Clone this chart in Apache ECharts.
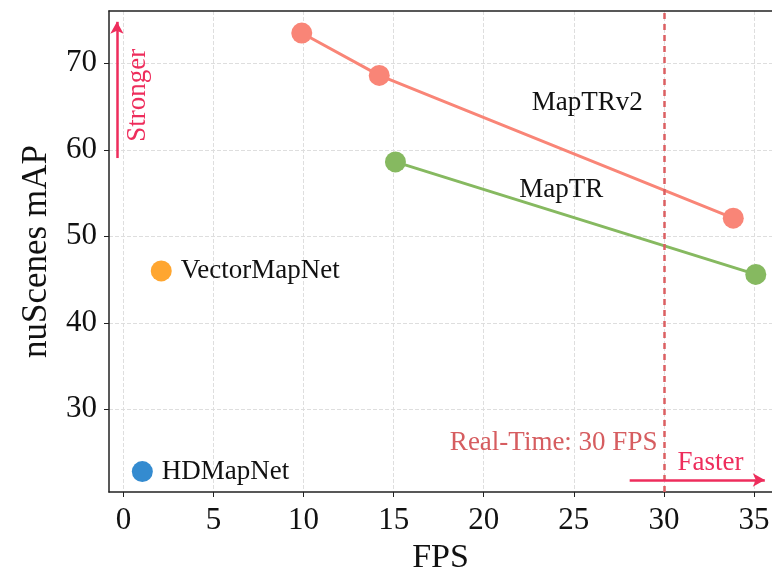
<!DOCTYPE html>
<html>
<head>
<meta charset="utf-8">
<script src="https://cdn.jsdelivr.net/npm/echarts@6/dist/echarts.min.js"></script>
<style>
  html, body { margin: 0; padding: 0; background: #fff; }
  #main { width: 772px; height: 569px; }
</style>
</head>
<body>
<div id="main"></div>
<script>
// data
var mapTRv2 = [[9.9, 73.5], [14.2, 68.6], [33.85, 52.1]];
var mapTR = [[15.1, 58.6], [35.1, 45.6]];
var vectorMapNet = [[2.1, 46.0]];
var hdMapNet = [[1.05, 22.8]];

var xTicks = [0, 5, 10, 15, 20, 25, 30, 35];
var yTicks = [30, 40, 50, 60, 70];
var realTimeFps = 30;

// text annotations: [x, y, text]
var lineNames = [[25.75, 65.4, 'MapTRv2'], [24.3, 55.35, 'MapTR']];
var realTimeText = [[29.64, 26.1, 'Real-Time: 30 FPS']];
var fasterText = [[30.75, 23.8, 'Faster']];
var strongerText = [[0.8, 66.3, 'Stronger']];
var fasterArrow = [[28.1, 21.83], [35.6, 21.83]];
var strongerArrow = [[-0.36, 59.05], [-0.36, 74.8]];

var serif = 'Liberation Serif';
var arrowColor = '#EE2D5C';

function textSeries(data, color, align, rotate) {
    return {
        type: 'scatter',
        symbolSize: 0,
        silent: true,
        itemStyle: { opacity: 1 },
        data: data.map(function (d) { return { value: [d[0], d[1]], name: d[2] }; }),
        label: {
            show: true,
            position: 'inside',
            formatter: '{b}',
            align: align,
            verticalAlign: 'middle',
            rotate: rotate || 0,
            fontFamily: serif,
            fontSize: 27,
            color: color
        },
        z: 5
    };
}

function arrowLine(pts) {
    return [{ coord: pts[0] }, { coord: pts[1] }];
}

var myChart = echarts.init(document.getElementById('main'));
var option = {
    animation: false,
    grid: { left: 109, right: 0, top: 11, bottom: 77, outerBoundsMode: 'none', containLabel: false },
    xAxis: [{
        type: 'value',
        min: -0.8,
        max: 36,
        name: 'FPS',
        nameLocation: 'middle',
        nameGap: 48,
        nameTextStyle: { fontFamily: serif, fontSize: 34, color: '#111' },
        axisLine: { show: true, onZero: false, lineStyle: { color: '#222', width: 1.5 } },
        axisTick: { show: true, length: 5, customValues: xTicks, lineStyle: { color: '#222' } },
        axisLabel: { customValues: xTicks, fontFamily: serif, fontSize: 31, color: '#111', margin: 13 },
        splitLine: { show: true, lineStyle: { type: 'dashed', color: '#dedede' } }
    }, {
        type: 'value',
        position: 'top',
        min: -0.8,
        max: 36,
        axisLine: { show: true, onZero: false, lineStyle: { color: '#222', width: 1.5 } },
        axisTick: { show: false },
        axisLabel: { show: false },
        splitLine: { show: false }
    }],
    yAxis: {
        type: 'value',
        min: 20.44,
        max: 76.05,
        name: 'nuScenes mAP',
        nameLocation: 'middle',
        nameGap: 55,
        nameTextStyle: { fontFamily: serif, fontSize: 35, color: '#111' },
        axisLine: { show: true, onZero: false, lineStyle: { color: '#222', width: 1.5 } },
        axisTick: { show: true, length: 5, customValues: yTicks, lineStyle: { color: '#222' } },
        axisLabel: { customValues: yTicks, fontFamily: serif, fontSize: 31, color: '#111', margin: 12 },
        splitLine: { show: true, lineStyle: { type: 'dashed', color: '#dedede' } }
    },
    series: [
        {
            name: 'MapTRv2',
            type: 'line',
            data: mapTRv2,
            symbol: 'circle',
            symbolSize: 21,
            color: '#F98577',
            itemStyle: { opacity: 1 },
            lineStyle: { width: 3 },
            z: 4
        },
        {
            name: 'MapTR',
            type: 'line',
            data: mapTR,
            symbol: 'circle',
            symbolSize: 21,
            color: '#86B960',
            itemStyle: { opacity: 1 },
            lineStyle: { width: 3 },
            z: 4
        },
        {
            name: 'VectorMapNet',
            type: 'scatter',
            data: vectorMapNet,
            symbolSize: 21,
            color: '#FFA630',
            itemStyle: { opacity: 1 },
            label: { show: true, position: 'right', distance: 9, formatter: '{a}', fontFamily: serif, fontSize: 27, color: '#111' }
        },
        {
            name: 'HDMapNet',
            type: 'scatter',
            data: hdMapNet,
            symbolSize: 21,
            color: '#348BD0',
            itemStyle: { opacity: 1 },
            label: { show: true, position: 'right', distance: 9, formatter: '{a}', fontFamily: serif, fontSize: 27, color: '#111' }
        },
        {
            type: 'line',
            data: [],
            markLine: {
                silent: true,
                symbol: ['none', 'none'],
                label: { show: false },
                lineStyle: { color: '#DB5F62', type: [6, 5], width: 2.5, opacity: 1 },
                data: [{ xAxis: realTimeFps }]
            }
        },
        {
            type: 'line',
            data: [],
            markLine: {
                silent: true,
                symbol: ['none', 'arrow'],
                symbolSize: [10, 12],
                label: { show: false },
                lineStyle: { color: arrowColor, type: 'solid', width: 2.5, opacity: 1 },
                data: [arrowLine(fasterArrow), arrowLine(strongerArrow)]
            }
        },
        textSeries(lineNames, '#111', 'center'),
        textSeries(realTimeText, '#D65D60', 'right'),
        textSeries(fasterText, arrowColor, 'left'),
        textSeries(strongerText, arrowColor, 'center', 90)
    ]
};
myChart.setOption(option);
</script>
</body>
</html>
